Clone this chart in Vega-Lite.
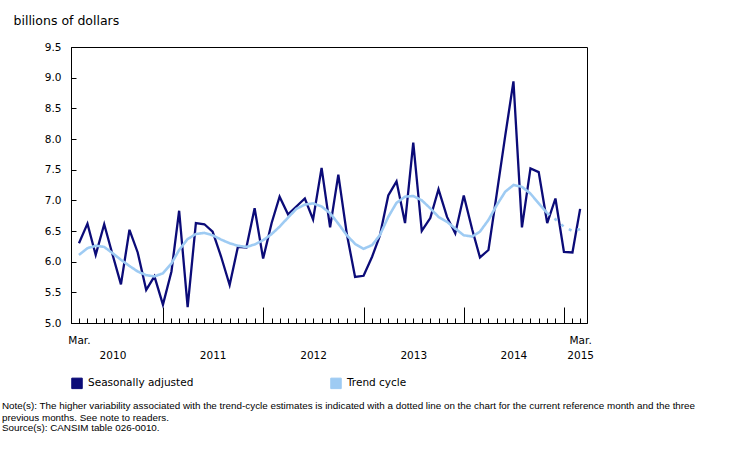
{
  "$schema": "https://vega.github.io/schema/vega-lite/v6.json",
  "width": 516,
  "height": 276,
  "autosize": {"type": "none"},
  "padding": {"left": 71, "top": 47, "right": 146, "bottom": 137},
  "background": "white",
  "config": {
    "view": {"stroke": "#000", "strokeWidth": 1},
    "font": "DejaVu Sans"
  },
  "title": {
    "text": ["Note(s): The higher variability associated with the trend-cycle estimates is indicated with a dotted line on the chart for the current reference month and the three", "previous months. See note to readers."],
    "subtitle": "Source(s): CANSIM table 026-0010.",
    "orient": "bottom",
    "anchor": "start",
    "frame": "group",
    "dx": -69,
    "offset": 10,
    "font": "Liberation Sans",
    "fontSize": 9.85,
    "fontWeight": "normal",
    "color": "#000",
    "lineHeight": 11.7,
    "subtitleFont": "Liberation Sans",
    "subtitleFontSize": 9.85,
    "subtitleColor": "#000",
    "subtitleLineHeight": 11.7,
    "subtitlePadding": 0
  },
  "data": {
    "values": [
      {"date": "2010-03-01", "series": "Seasonally adjusted", "part": "solid", "value": 6.30},
      {"date": "2010-04-01", "series": "Seasonally adjusted", "part": "solid", "value": 6.62},
      {"date": "2010-05-01", "series": "Seasonally adjusted", "part": "solid", "value": 6.11},
      {"date": "2010-06-01", "series": "Seasonally adjusted", "part": "solid", "value": 6.61},
      {"date": "2010-07-01", "series": "Seasonally adjusted", "part": "solid", "value": 6.12},
      {"date": "2010-08-01", "series": "Seasonally adjusted", "part": "solid", "value": 5.63},
      {"date": "2010-09-01", "series": "Seasonally adjusted", "part": "solid", "value": 6.52},
      {"date": "2010-10-01", "series": "Seasonally adjusted", "part": "solid", "value": 6.15},
      {"date": "2010-11-01", "series": "Seasonally adjusted", "part": "solid", "value": 5.54},
      {"date": "2010-12-01", "series": "Seasonally adjusted", "part": "solid", "value": 5.76},
      {"date": "2011-01-01", "series": "Seasonally adjusted", "part": "solid", "value": 5.30},
      {"date": "2011-02-01", "series": "Seasonally adjusted", "part": "solid", "value": 5.84},
      {"date": "2011-03-01", "series": "Seasonally adjusted", "part": "solid", "value": 6.83},
      {"date": "2011-04-01", "series": "Seasonally adjusted", "part": "solid", "value": 5.26},
      {"date": "2011-05-01", "series": "Seasonally adjusted", "part": "solid", "value": 6.63},
      {"date": "2011-06-01", "series": "Seasonally adjusted", "part": "solid", "value": 6.61},
      {"date": "2011-07-01", "series": "Seasonally adjusted", "part": "solid", "value": 6.49},
      {"date": "2011-08-01", "series": "Seasonally adjusted", "part": "solid", "value": 6.08},
      {"date": "2011-09-01", "series": "Seasonally adjusted", "part": "solid", "value": 5.62},
      {"date": "2011-10-01", "series": "Seasonally adjusted", "part": "solid", "value": 6.24},
      {"date": "2011-11-01", "series": "Seasonally adjusted", "part": "solid", "value": 6.23},
      {"date": "2011-12-01", "series": "Seasonally adjusted", "part": "solid", "value": 6.87},
      {"date": "2012-01-01", "series": "Seasonally adjusted", "part": "solid", "value": 6.05},
      {"date": "2012-02-01", "series": "Seasonally adjusted", "part": "solid", "value": 6.63},
      {"date": "2012-03-01", "series": "Seasonally adjusted", "part": "solid", "value": 7.06},
      {"date": "2012-04-01", "series": "Seasonally adjusted", "part": "solid", "value": 6.77},
      {"date": "2012-05-01", "series": "Seasonally adjusted", "part": "solid", "value": 6.90},
      {"date": "2012-06-01", "series": "Seasonally adjusted", "part": "solid", "value": 7.03},
      {"date": "2012-07-01", "series": "Seasonally adjusted", "part": "solid", "value": 6.69},
      {"date": "2012-08-01", "series": "Seasonally adjusted", "part": "solid", "value": 7.53},
      {"date": "2012-09-01", "series": "Seasonally adjusted", "part": "solid", "value": 6.56},
      {"date": "2012-10-01", "series": "Seasonally adjusted", "part": "solid", "value": 7.42},
      {"date": "2012-11-01", "series": "Seasonally adjusted", "part": "solid", "value": 6.45},
      {"date": "2012-12-01", "series": "Seasonally adjusted", "part": "solid", "value": 5.75},
      {"date": "2013-01-01", "series": "Seasonally adjusted", "part": "solid", "value": 5.77},
      {"date": "2013-02-01", "series": "Seasonally adjusted", "part": "solid", "value": 6.08},
      {"date": "2013-03-01", "series": "Seasonally adjusted", "part": "solid", "value": 6.42},
      {"date": "2013-04-01", "series": "Seasonally adjusted", "part": "solid", "value": 7.08},
      {"date": "2013-05-01", "series": "Seasonally adjusted", "part": "solid", "value": 7.31},
      {"date": "2013-06-01", "series": "Seasonally adjusted", "part": "solid", "value": 6.63},
      {"date": "2013-07-01", "series": "Seasonally adjusted", "part": "solid", "value": 7.94},
      {"date": "2013-08-01", "series": "Seasonally adjusted", "part": "solid", "value": 6.50},
      {"date": "2013-09-01", "series": "Seasonally adjusted", "part": "solid", "value": 6.71},
      {"date": "2013-10-01", "series": "Seasonally adjusted", "part": "solid", "value": 7.18},
      {"date": "2013-11-01", "series": "Seasonally adjusted", "part": "solid", "value": 6.73},
      {"date": "2013-12-01", "series": "Seasonally adjusted", "part": "solid", "value": 6.46},
      {"date": "2014-01-01", "series": "Seasonally adjusted", "part": "solid", "value": 7.08},
      {"date": "2014-02-01", "series": "Seasonally adjusted", "part": "solid", "value": 6.52},
      {"date": "2014-03-01", "series": "Seasonally adjusted", "part": "solid", "value": 6.07},
      {"date": "2014-04-01", "series": "Seasonally adjusted", "part": "solid", "value": 6.19},
      {"date": "2014-05-01", "series": "Seasonally adjusted", "part": "solid", "value": 7.10},
      {"date": "2014-06-01", "series": "Seasonally adjusted", "part": "solid", "value": 8.05},
      {"date": "2014-07-01", "series": "Seasonally adjusted", "part": "solid", "value": 8.94},
      {"date": "2014-08-01", "series": "Seasonally adjusted", "part": "solid", "value": 6.56},
      {"date": "2014-09-01", "series": "Seasonally adjusted", "part": "solid", "value": 7.52},
      {"date": "2014-10-01", "series": "Seasonally adjusted", "part": "solid", "value": 7.46},
      {"date": "2014-11-01", "series": "Seasonally adjusted", "part": "solid", "value": 6.63},
      {"date": "2014-12-01", "series": "Seasonally adjusted", "part": "solid", "value": 7.03},
      {"date": "2015-01-01", "series": "Seasonally adjusted", "part": "solid", "value": 6.16},
      {"date": "2015-02-01", "series": "Seasonally adjusted", "part": "solid", "value": 6.15},
      {"date": "2015-03-01", "series": "Seasonally adjusted", "part": "solid", "value": 6.86},
      {"date": "2010-03-01", "series": "Trend cycle", "part": "solid", "value": 6.11},
      {"date": "2010-04-01", "series": "Trend cycle", "part": "solid", "value": 6.22},
      {"date": "2010-05-01", "series": "Trend cycle", "part": "solid", "value": 6.26},
      {"date": "2010-06-01", "series": "Trend cycle", "part": "solid", "value": 6.24},
      {"date": "2010-07-01", "series": "Trend cycle", "part": "solid", "value": 6.14},
      {"date": "2010-08-01", "series": "Trend cycle", "part": "solid", "value": 6.03},
      {"date": "2010-09-01", "series": "Trend cycle", "part": "solid", "value": 5.93},
      {"date": "2010-10-01", "series": "Trend cycle", "part": "solid", "value": 5.84},
      {"date": "2010-11-01", "series": "Trend cycle", "part": "solid", "value": 5.78},
      {"date": "2010-12-01", "series": "Trend cycle", "part": "solid", "value": 5.76},
      {"date": "2011-01-01", "series": "Trend cycle", "part": "solid", "value": 5.81},
      {"date": "2011-02-01", "series": "Trend cycle", "part": "solid", "value": 5.97},
      {"date": "2011-03-01", "series": "Trend cycle", "part": "solid", "value": 6.19},
      {"date": "2011-04-01", "series": "Trend cycle", "part": "solid", "value": 6.37},
      {"date": "2011-05-01", "series": "Trend cycle", "part": "solid", "value": 6.45},
      {"date": "2011-06-01", "series": "Trend cycle", "part": "solid", "value": 6.47},
      {"date": "2011-07-01", "series": "Trend cycle", "part": "solid", "value": 6.43},
      {"date": "2011-08-01", "series": "Trend cycle", "part": "solid", "value": 6.36},
      {"date": "2011-09-01", "series": "Trend cycle", "part": "solid", "value": 6.30},
      {"date": "2011-10-01", "series": "Trend cycle", "part": "solid", "value": 6.26},
      {"date": "2011-11-01", "series": "Trend cycle", "part": "solid", "value": 6.24},
      {"date": "2011-12-01", "series": "Trend cycle", "part": "solid", "value": 6.28},
      {"date": "2012-01-01", "series": "Trend cycle", "part": "solid", "value": 6.35},
      {"date": "2012-02-01", "series": "Trend cycle", "part": "solid", "value": 6.45},
      {"date": "2012-03-01", "series": "Trend cycle", "part": "solid", "value": 6.57},
      {"date": "2012-04-01", "series": "Trend cycle", "part": "solid", "value": 6.72},
      {"date": "2012-05-01", "series": "Trend cycle", "part": "solid", "value": 6.86},
      {"date": "2012-06-01", "series": "Trend cycle", "part": "solid", "value": 6.93},
      {"date": "2012-07-01", "series": "Trend cycle", "part": "solid", "value": 6.95},
      {"date": "2012-08-01", "series": "Trend cycle", "part": "solid", "value": 6.90},
      {"date": "2012-09-01", "series": "Trend cycle", "part": "solid", "value": 6.79},
      {"date": "2012-10-01", "series": "Trend cycle", "part": "solid", "value": 6.62},
      {"date": "2012-11-01", "series": "Trend cycle", "part": "solid", "value": 6.43},
      {"date": "2012-12-01", "series": "Trend cycle", "part": "solid", "value": 6.29},
      {"date": "2013-01-01", "series": "Trend cycle", "part": "solid", "value": 6.21},
      {"date": "2013-02-01", "series": "Trend cycle", "part": "solid", "value": 6.27},
      {"date": "2013-03-01", "series": "Trend cycle", "part": "solid", "value": 6.43},
      {"date": "2013-04-01", "series": "Trend cycle", "part": "solid", "value": 6.73},
      {"date": "2013-05-01", "series": "Trend cycle", "part": "solid", "value": 6.96},
      {"date": "2013-06-01", "series": "Trend cycle", "part": "solid", "value": 7.06},
      {"date": "2013-07-01", "series": "Trend cycle", "part": "solid", "value": 7.07},
      {"date": "2013-08-01", "series": "Trend cycle", "part": "solid", "value": 7.00},
      {"date": "2013-09-01", "series": "Trend cycle", "part": "solid", "value": 6.87},
      {"date": "2013-10-01", "series": "Trend cycle", "part": "solid", "value": 6.73},
      {"date": "2013-11-01", "series": "Trend cycle", "part": "solid", "value": 6.65},
      {"date": "2013-12-01", "series": "Trend cycle", "part": "solid", "value": 6.54},
      {"date": "2014-01-01", "series": "Trend cycle", "part": "solid", "value": 6.43},
      {"date": "2014-02-01", "series": "Trend cycle", "part": "solid", "value": 6.41},
      {"date": "2014-03-01", "series": "Trend cycle", "part": "solid", "value": 6.49},
      {"date": "2014-04-01", "series": "Trend cycle", "part": "solid", "value": 6.68},
      {"date": "2014-05-01", "series": "Trend cycle", "part": "solid", "value": 6.92},
      {"date": "2014-06-01", "series": "Trend cycle", "part": "solid", "value": 7.14},
      {"date": "2014-07-01", "series": "Trend cycle", "part": "solid", "value": 7.25},
      {"date": "2014-08-01", "series": "Trend cycle", "part": "solid", "value": 7.22},
      {"date": "2014-09-01", "series": "Trend cycle", "part": "solid", "value": 7.11},
      {"date": "2014-10-01", "series": "Trend cycle", "part": "solid", "value": 6.95},
      {"date": "2014-11-01", "series": "Trend cycle", "part": "solid", "value": 6.79},
      {"date": "2014-11-01", "series": "Trend cycle", "part": "dotted", "value": 6.79},
      {"date": "2014-12-01", "series": "Trend cycle", "part": "dotted", "value": 6.69},
      {"date": "2015-01-01", "series": "Trend cycle", "part": "dotted", "value": 6.57},
      {"date": "2015-02-01", "series": "Trend cycle", "part": "dotted", "value": 6.50},
      {"date": "2015-03-01", "series": "Trend cycle", "part": "dotted", "value": 6.53}
    ]
  },
  "encoding": {
    "y": {
      "field": "value", "type": "quantitative",
      "scale": {"domain": [5, 9.5], "nice": false, "zero": false},
      "axis": {
        "title": "billions of dollars", "titleAngle": 0, "titleAlign": "left", "titleBaseline": "alphabetic",
        "titleX": -58, "titleY": -23, "titleFont": "DejaVu Sans", "titleFontSize": 12.5, "titleFontWeight": "normal", "titleColor": "#000",
        "values": [5, 5.5, 6, 6.5, 7, 7.5, 8, 8.5, 9, 9.5], "format": ".1f",
        "labelOverlap": false, "labelFlush": false, "labelBound": false,
        "tickSize": -5, "tickColor": "#000", "domainColor": "#000", "grid": false,
        "labelFont": "DejaVu Sans", "labelFontSize": 10.5, "labelColor": "#000", "labelPadding": 15
      }
    },
    "color": {
      "field": "series", "type": "nominal",
      "scale": {"domain": ["Seasonally adjusted", "Trend cycle"], "range": ["#0b0b78", "#9ecbf3"]},
      "legend": {
        "title": null, "orient": "none", "legendX": 0, "legendY": 330, "direction": "horizontal",
        "symbolType": "square", "symbolSize": 110, "symbolStrokeWidth": 1, "symbolStrokeColor": "#222",
        "labelFont": "DejaVu Sans", "labelFontSize": 10.5, "labelColor": "#000", "labelOffset": 5,
        "columnPadding": 134,
        "encode": {"symbols": {"update": {"fill": {"scale": "color", "field": "value"}, "fillOpacity": {"value": 1}, "stroke": {"value": "#222"}, "strokeWidth": {"value": 1}}}}
      }
    }
  },
  "layer": [
    {
      "transform": [{"filter": "datum.series === 'Seasonally adjusted'"}],
      "mark": {"type": "line", "strokeWidth": 2.3},
      "encoding": {
        "x": {
          "field": "date", "type": "temporal",
          "scale": {"type": "utc", "domain": [{"year": 2010, "month": 1, "date": 31, "utc": true}, {"year": 2015, "month": 3, "date": 26, "utc": true}]},
          "axis": {
            "orient": "bottom", "title": null, "grid": false,
            "tickCount": {"interval": "month", "step": 1},
            "tickSize": -5, "tickColor": "#000", "tickWidth": 1,
            "domainColor": "#000", "domainWidth": 1,
            "labelExpr": "utcmonth(datum.value) == 2 && utcyear(datum.value) == 2010 ? ['Mar.', ''] : (utcmonth(datum.value) == 2 && utcyear(datum.value) == 2015 ? ['Mar.', '2015'] : (utcmonth(datum.value) == 6 && utcyear(datum.value) < 2015 ? ['', '' + utcyear(datum.value)] : ''))",
            "labelOverlap": false, "labelFlush": false, "labelBound": false,
            "labelPadding": 17, "labelLineHeight": 15,
            "labelFont": "DejaVu Sans", "labelFontSize": 10.5, "labelColor": "#000"
          }
        }
      }
    },
    {
      "transform": [{"filter": "datum.series === 'Trend cycle'"}],
      "mark": {"type": "line", "strokeWidth": 2.6},
      "encoding": {
        "x": {
          "field": "date", "type": "temporal",
          "axis": {
            "orient": "bottom", "title": null, "grid": false, "labels": false, "domain": false,
            "tickCount": {"interval": "year", "step": 1},
            "tickSize": -16, "tickColor": "#000", "tickWidth": 1
          }
        },
        "strokeDash": {
          "field": "part", "type": "nominal",
          "scale": {"domain": ["solid", "dotted"], "range": [[1, 0], [3, 6]]},
          "legend": null
        }
      }
    }
  ],
  "resolve": {"axis": {"x": "independent"}}
}
